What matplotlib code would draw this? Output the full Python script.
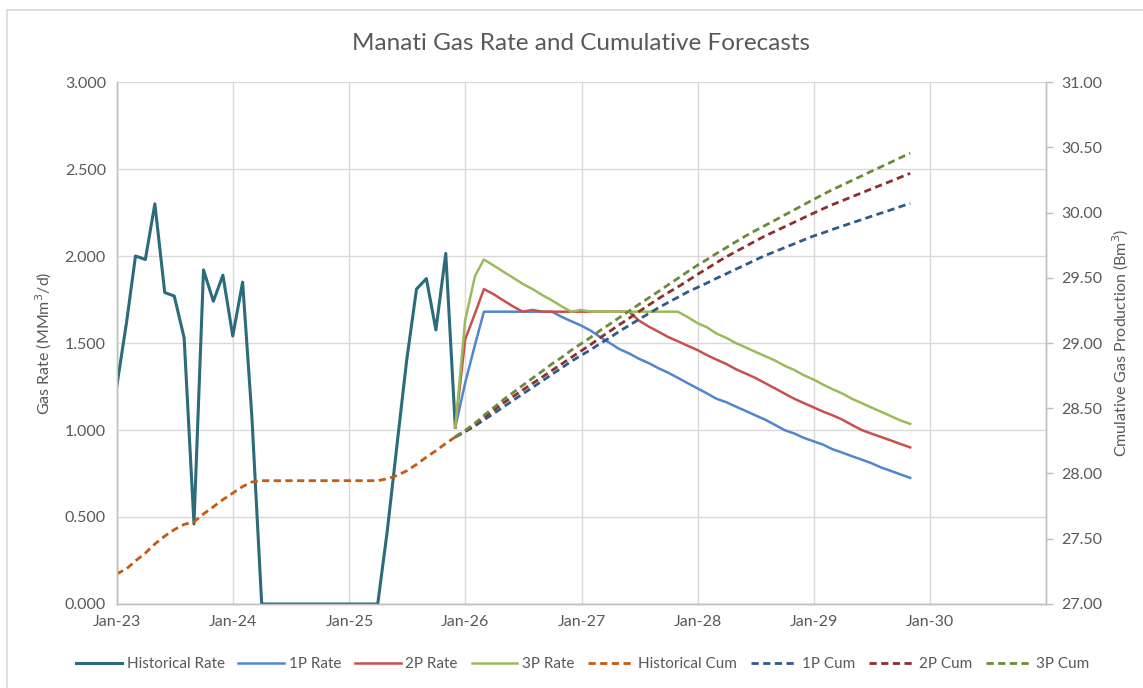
import pandas as pd
import matplotlib
matplotlib.use("Agg")
import matplotlib.pyplot as plt
import matplotlib.dates as mdates
from matplotlib.ticker import FormatStrFormatter, MultipleLocator

# =========================
# DATI
# =========================

# storico: fine mese, da Dic-22 a Nov-25
hist_dates = pd.date_range("2022-12-31", periods=36, freq="ME")
hist_rate = [1.25, 1.62, 2.00, 1.98, 2.30, 1.79, 1.77, 1.53, 0.46, 1.92, 1.74, 1.89,
             1.54, 1.85, 1.08, 0.00, 0.00, 0.00, 0.00, 0.00, 0.00, 0.00, 0.00, 0.00,
             0.00, 0.00, 0.00, 0.00, 0.42, 0.92, 1.40, 1.81, 1.87, 1.575, 2.015, 1.016]
hist_cum = [27.23, 27.27, 27.33, 27.39, 27.46, 27.52, 27.57, 27.61, 27.63, 27.69, 27.745, 27.80,
            27.85, 27.90, 27.935, 27.945, 27.945, 27.945, 27.945, 27.945, 27.945, 27.945, 27.945, 27.945,
            27.945, 27.945, 27.945, 27.945, 27.96, 27.985, 28.02, 28.07, 28.125, 28.175, 28.23, 28.28]

# forecast: fine mese, da Nov-25 a Ott-29
fc_dates = pd.date_range("2025-11-30", periods=48, freq="ME")
rate_1p = [1.016, 1.27, 1.49, 1.68, 1.68, 1.68, 1.68, 1.68, 1.68, 1.68, 1.68, 1.65,
           1.625, 1.60, 1.57, 1.535, 1.50, 1.465, 1.44, 1.41, 1.385, 1.355, 1.33, 1.30,
           1.27, 1.24, 1.21, 1.18, 1.16, 1.135, 1.11, 1.085, 1.06, 1.03, 1.00, 0.98,
           0.955, 0.935, 0.915, 0.89, 0.87, 0.85, 0.83, 0.81, 0.785, 0.765, 0.745, 0.725]
rate_2p = [1.016, 1.52, 1.67, 1.81, 1.78, 1.745, 1.71, 1.68, 1.69, 1.68, 1.68, 1.68,
           1.68, 1.68, 1.68, 1.68, 1.68, 1.68, 1.68, 1.63, 1.595, 1.565, 1.535, 1.51,
           1.485, 1.46, 1.43, 1.405, 1.38, 1.35, 1.325, 1.30, 1.27, 1.24, 1.21, 1.18,
           1.155, 1.13, 1.105, 1.085, 1.06, 1.03, 1.00, 0.98, 0.96, 0.94, 0.92, 0.90]
rate_3p = [1.016, 1.63, 1.885, 1.98, 1.945, 1.91, 1.875, 1.84, 1.81, 1.775, 1.745, 1.71,
           1.68, 1.69, 1.68, 1.68, 1.68, 1.68, 1.68, 1.68, 1.68, 1.68, 1.68, 1.68,
           1.65, 1.615, 1.59, 1.555, 1.53, 1.50, 1.475, 1.45, 1.425, 1.40, 1.37, 1.345,
           1.315, 1.29, 1.26, 1.235, 1.21, 1.18, 1.155, 1.13, 1.105, 1.08, 1.055, 1.035]
cum_1p = [28.28, 28.32, 28.365, 28.41, 28.46, 28.51, 28.56, 28.61, 28.66, 28.71, 28.76, 28.81,
          28.86, 28.905, 28.95, 28.995, 29.04, 29.09, 29.135, 29.18, 29.225, 29.27, 29.31, 29.35,
          29.39, 29.425, 29.46, 29.495, 29.53, 29.565, 29.60, 29.635, 29.67, 29.70, 29.73, 29.76,
          29.79, 29.82, 29.845, 29.87, 29.895, 29.92, 29.945, 29.97, 29.995, 30.02, 30.045, 30.07]
cum_2p = [28.28, 28.325, 28.375, 28.43, 28.485, 28.54, 28.59, 28.64, 28.69, 28.74, 28.79, 28.84,
          28.89, 28.94, 28.99, 29.04, 29.09, 29.14, 29.19, 29.24, 29.29, 29.34, 29.385, 29.43,
          29.475, 29.525, 29.57, 29.615, 29.66, 29.70, 29.74, 29.78, 29.82, 29.855, 29.89, 29.925,
          29.96, 29.995, 30.03, 30.06, 30.09, 30.12, 30.15, 30.18, 30.21, 30.24, 30.27, 30.30]
cum_3p = [28.28, 28.33, 28.385, 28.445, 28.505, 28.565, 28.62, 28.675, 28.73, 28.785, 28.84, 28.89,
          28.945, 28.995, 29.045, 29.095, 29.145, 29.195, 29.245, 29.295, 29.345, 29.395, 29.445, 29.495,
          29.545, 29.595, 29.64, 29.685, 29.73, 29.775, 29.82, 29.86, 29.90, 29.94, 29.98, 30.02,
          30.06, 30.10, 30.14, 30.175, 30.21, 30.245, 30.28, 30.315, 30.35, 30.385, 30.42, 30.455]

# =========================
# STILE
# =========================

plt.rcParams["font.family"] = ["Lato", "DejaVu Sans"]
TXT = "#595959"
GRID = "#d9d9d9"
AXC = "#bfbfbf"

fig = plt.figure(figsize=(11.43, 6.88), dpi=100)
ax = fig.add_axes([0.1024, 0.1221, 0.8127, 0.7587])
ax2 = ax.twinx()

# bordo del chart (solo sinistra/alto visibili)
fig.patches.append(plt.Rectangle((7 / 1143, -0.05), 1.2, 1 - 10 / 688 + 0.05,
                                 transform=fig.transFigure, fill=False,
                                 edgecolor="#d9d9d9", linewidth=1.2))

# =========================
# LINEE
# =========================

ax.plot(hist_dates, hist_rate, color="#2b6b7b", lw=2.2, label="Historical Rate", zorder=3)
ax.plot(fc_dates, rate_1p, color="#4f86cf", lw=1.8, label="1P Rate", zorder=3)
ax.plot(fc_dates, rate_2p, color="#c9504d", lw=1.8, label="2P Rate", zorder=3)
ax.plot(fc_dates, rate_3p, color="#9bbb59", lw=1.8, label="3P Rate", zorder=3)

dash = (0, (2.6, 1.6))
ax2.plot(hist_dates, hist_cum, color="#c55a11", lw=2.0, linestyle=dash, label="Historical Cum")
ax2.plot(fc_dates, cum_1p, color="#2f5b8c", lw=2.0, linestyle=dash, label="1P Cum")
ax2.plot(fc_dates, cum_2p, color="#8e2f2f", lw=2.0, linestyle=dash, label="2P Cum")
ax2.plot(fc_dates, cum_3p, color="#6b8a3a", lw=2.0, linestyle=dash, label="3P Cum")

# =========================
# ASSI
# =========================

ax.set_xlim(pd.Timestamp("2023-01-01"), pd.Timestamp("2031-01-01"))
year_ticks = pd.date_range("2023-01-01", "2030-01-01", freq="YS")
ax.set_xticks(year_ticks)
ax.xaxis.set_major_formatter(mdates.DateFormatter("%b-%y"))

ax.set_ylim(0, 3)
ax.yaxis.set_major_locator(MultipleLocator(0.5))
ax.yaxis.set_major_formatter(FormatStrFormatter("%.3f"))
ax2.set_ylim(27, 31)
ax2.yaxis.set_major_locator(MultipleLocator(0.5))
ax2.yaxis.set_major_formatter(FormatStrFormatter("%.2f"))

ax.grid(True, color=GRID, linewidth=1.0)
ax.set_axisbelow(True)

for a in (ax, ax2):
    a.spines["top"].set_visible(False)
    for s in ("left", "right", "bottom"):
        a.spines[s].set_color(AXC)
        a.spines[s].set_linewidth(1.0)

FS = 11.5
ax.tick_params(axis="both", length=0, colors=TXT, labelsize=FS, pad=8)
ax.tick_params(axis="x", pad=8)
ax2.tick_params(axis="y", length=5, width=1.0, color=AXC, labelcolor=TXT, labelsize=FS, pad=6)

ax.set_ylabel("Gas Rate (MMm$^3$/d)", color=TXT, fontsize=FS, labelpad=8)
ax2.set_ylabel("Cmulative Gas Production (Bm$^3$)", color=TXT, fontsize=FS, labelpad=6)

fig.text(0.508, 1 - 44 / 688, "Manati Gas Rate and Cumulative Forecasts",
         color=TXT, fontsize=17.5, ha="center", va="center")

# legenda unica in basso
h1, l1 = ax.get_legend_handles_labels()
h2, l2 = ax2.get_legend_handles_labels()
fig.legend(h1 + h2, l1 + l2, loc="center", bbox_to_anchor=(0.51, 0.035), ncol=8,
           frameon=False, fontsize=11, labelcolor=TXT, handlelength=3.0,
           handletextpad=0.3, columnspacing=0.9)

plt.savefig("out.png", dpi=100)
plt.close()
